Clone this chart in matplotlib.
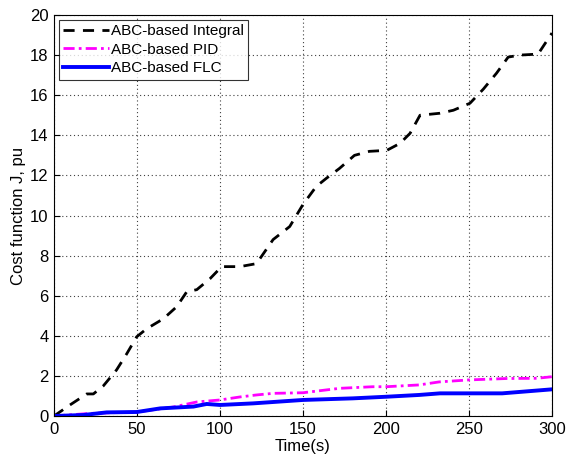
import matplotlib
matplotlib.use("Agg")
import matplotlib.pyplot as plt

plt.rcParams['font.family'] = ['Liberation Sans', 'DejaVu Sans']

# ABC-based Integral
t_int = [0, 9.6, 19.7, 23.7, 29.7, 37.7, 43.8, 49.8, 55.8, 65.9, 73.9, 80, 86, 94, 101,
         112, 122, 132, 142, 150, 158, 164, 172, 181, 190, 200.5, 208.5, 214.5, 220.5,
         232.5, 240.6, 250.6, 258.6, 266.6, 273.6, 280.6, 291.6, 300]
j_int = [0, 0.55, 1.1, 1.1, 1.5, 2.3, 3.1, 3.95, 4.35, 4.85, 5.45, 6.2, 6.3, 6.85, 7.45,
         7.45, 7.6, 8.8, 9.45, 10.55, 11.45, 11.85, 12.35, 13.0, 13.2, 13.25, 13.6, 14.1, 15.0,
         15.1, 15.25, 15.6, 16.3, 17.1, 17.9, 18.0, 18.05, 19.1]

# ABC-based PID
t_pid = [0, 21.7, 50, 72, 86, 100, 112, 122, 132, 150, 172, 192, 200, 220, 232, 250, 273, 291, 300]
j_pid = [0, 0.13, 0.2, 0.45, 0.7, 0.8, 0.95, 1.05, 1.13, 1.16, 1.38, 1.46, 1.46, 1.55, 1.7,
         1.8, 1.87, 1.88, 1.96]

# ABC-based FLC
t_flc = [0, 17.7, 31.7, 50, 64, 84, 92, 100, 120, 150, 180, 200, 220, 232.5, 250, 270, 300]
j_flc = [0, 0.05, 0.18, 0.2, 0.38, 0.47, 0.6, 0.55, 0.63, 0.8, 0.88, 0.96, 1.05, 1.13, 1.13,
         1.13, 1.33]

fig = plt.figure(figsize=(5.74, 4.66), dpi=100)
ax = fig.add_axes([54/574, 1 - 416/466, (552-54)/574, (416-15)/466])

ax.plot(t_int, j_int, color='black', linestyle=(0, (4, 3)), linewidth=2, label='ABC-based Integral')
ax.plot(t_pid, j_pid, color='magenta', linestyle=(0, (4, 1.5, 1, 1.5)), linewidth=2, label='ABC-based PID')
ax.plot(t_flc, j_flc, color='blue', linestyle='-', linewidth=2.8, label='ABC-based FLC')

ax.set_xlim(0, 300)
ax.set_ylim(0, 20)
ax.set_xticks(range(0, 301, 50))
ax.set_yticks(range(0, 21, 2))
ax.grid(True, color='0.25', linestyle=(0, (1, 2.5)), linewidth=0.8)
ax.tick_params(direction='in', labelsize=12, length=4, pad=4)
for s in ax.spines.values():
    s.set_color('black')
    s.set_linewidth(0.8)

ax.set_xlabel('Time(s)', fontsize=12, labelpad=2)
ax.set_ylabel('Cost function J, pu', fontsize=12, labelpad=3)

leg = ax.legend(loc='upper left', fontsize=11, frameon=True, fancybox=False,
                borderaxespad=0.3, handlelength=3.0, handletextpad=0.1,
                labelspacing=0.3, borderpad=0.3)
leg.get_frame().set_edgecolor('black')
leg.get_frame().set_linewidth(0.8)

fig.savefig('out.png', dpi=100)
